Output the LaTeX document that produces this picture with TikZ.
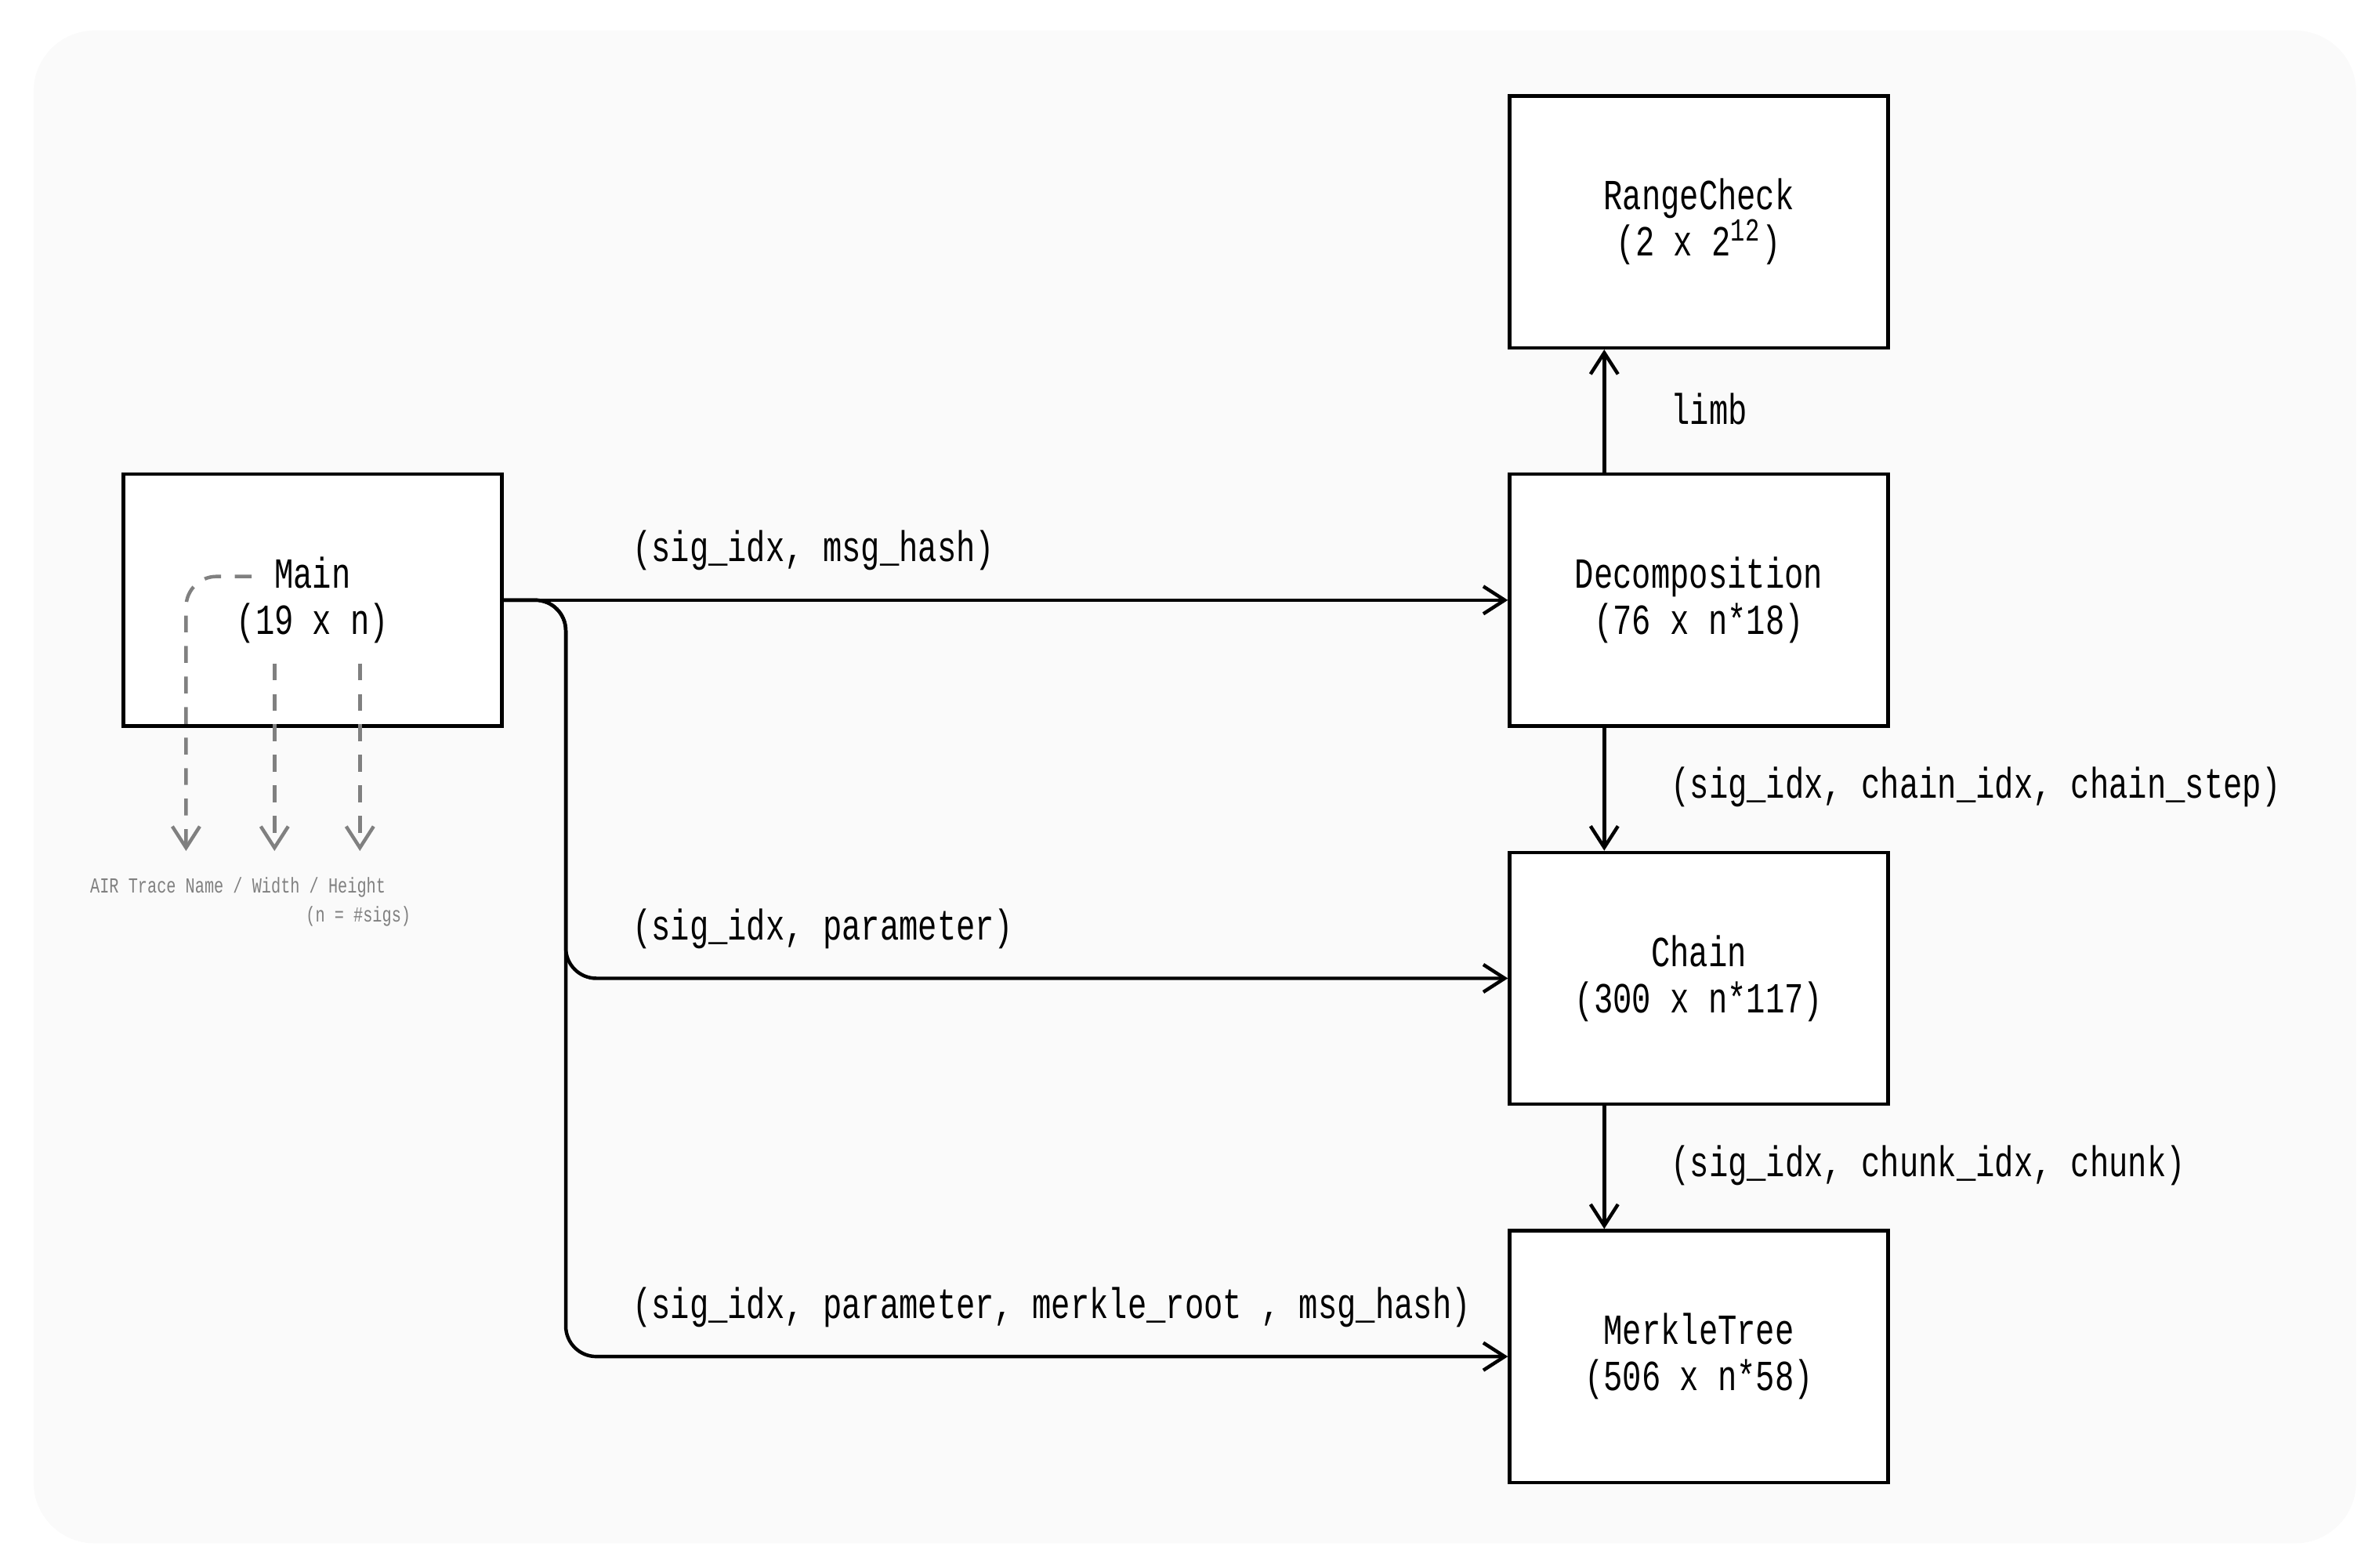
\documentclass[tikz,border=0pt]{standalone}
\usepackage{fontspec}
\setmonofont[FakeStretch=0.74]{Liberation Mono}
\usetikzlibrary{arrows.meta,positioning}

\begin{document}
\begin{tikzpicture}[
    x=0.01cm, y=-0.01cm,
    font=\ttfamily\fontsize{8}{8.6}\selectfont,
    box/.style={rectangle, draw=black, fill=white, line width=0.65pt, minimum width=2.48cm, minimum height=1.65cm, align=center},
    flow/.style={-{Straight Barb[length=1.4mm,width=1.8mm]}, line width=0.65pt, rounded corners=0.2cm},
    hint/.style={-{Straight Barb[length=1.4mm,width=1.8mm]}, draw=gray, line width=0.65pt, dash pattern=on 1.1mm off 0.9mm, rounded corners=0.2cm},
    lbl/.style={inner sep=0pt, anchor=west},
    note/.style={text=gray, font=\ttfamily\fontsize{4}{5}\selectfont, inner sep=0pt}
]
    % Frame
    \useasboundingbox (0,0) rectangle (1560,1027.7);
    \fill[black!2, rounded corners=0.4cm] (22,20) rectangle (1545,1012);

    % Trace boxes
    \node[box] (main) at (205,393.5) {Main\\(19 x n)};
    \node[box] (decomp) at (1114,393.5) {Decomposition\\(76 x n*18)};
    \node[box] (range) at (1114,145.5) {RangeCheck\\(2 x 2\textsuperscript{12})};
    \node[box] (chain) at (1114,641.5) {Chain\\(300 x n*117)};
    \node[box] (merkle) at (1114,889.5) {MerkleTree\\(506 x n*58)};

    % Lookups from Main
    \coordinate (bend) at (371,393.5);
    \draw[flow] (main.east) -- (decomp.west);
    \draw[flow] (main.east) -- (bend) |- (chain.west);
    \draw[flow] (main.east) -- (bend) |- (merkle.west);
    \node[lbl] (l1) at (414,361) {(sig\_idx, msg\_hash)};
    \node[lbl] (l2) at (414,609) {(sig\_idx, parameter)};
    \node[lbl] (l3) at (414,857) {(sig\_idx, parameter, merkle\_root , msg\_hash)};

    % Lookups on the right
    \draw[flow] ([xshift=-0.62cm]decomp.north) -- ([xshift=-0.62cm]range.south);
    \draw[flow] ([xshift=-0.62cm]decomp.south) -- ([xshift=-0.62cm]chain.north);
    \draw[flow] ([xshift=-0.62cm]chain.south) -- ([xshift=-0.62cm]merkle.north);
    \node[lbl] (l4) at (1095,268) {limb};
    \node[lbl] (l5) at (1095,516) {(sig\_idx, chain\_idx, chain\_step)};
    \node[lbl] (l6) at (1095,764) {(sig\_idx, chunk\_idx, chunk)};

    % Legend
    \coordinate (nameTop) at (165,378);
    \coordinate (nameEnd) at (122,558);
    \coordinate (widthTop) at (180,435);
    \coordinate (widthEnd) at (180,558);
    \coordinate (heightTop) at (236,435);
    \coordinate (heightEnd) at (236,558);
    \draw[hint] (nameTop) -| (nameEnd);
    \draw[hint] (widthTop) -- (widthEnd);
    \draw[hint] (heightTop) -- (heightEnd);
    \node[note] (legend) at (156,582) {AIR Trace Name / Width / Height};
    \node[note, anchor=east] (sigs) at (270,601) {(n = \#sigs)};
\end{tikzpicture}
\end{document}
